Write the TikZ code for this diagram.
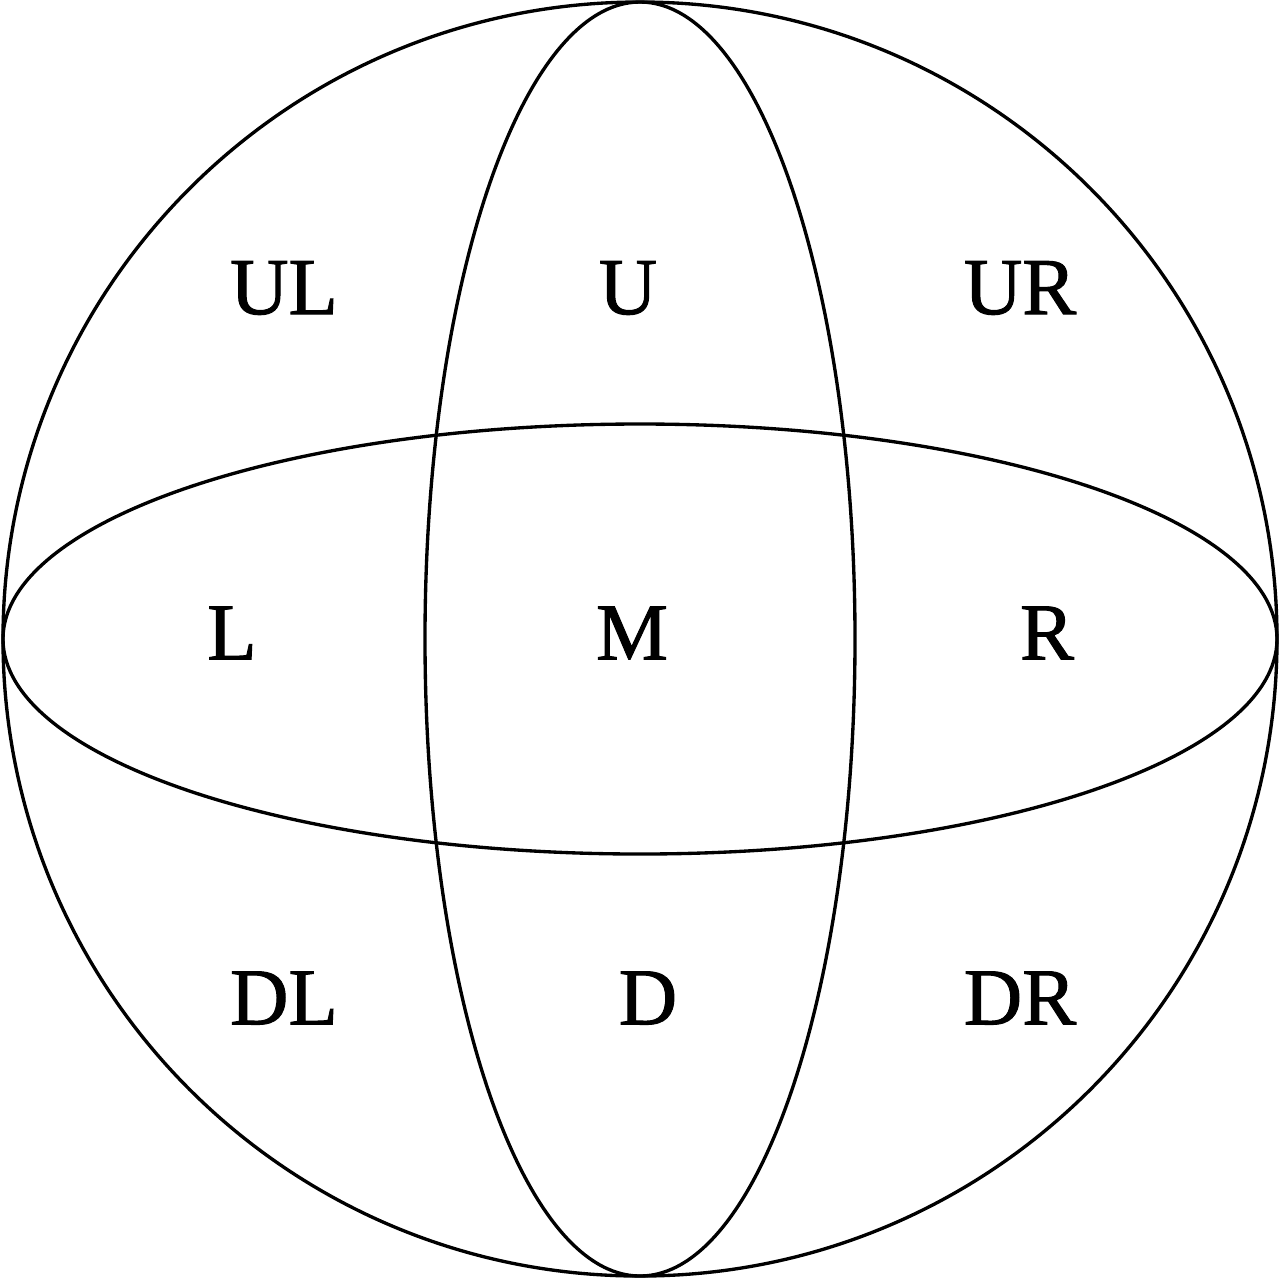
\documentclass[tikz,border=0pt]{standalone}
\usepackage{fontspec}
\setmainfont{Liberation Serif}
\newfontfamily\labelfont{Liberation Serif}[FakeBold=1.2]
\begin{document}
\begin{tikzpicture}[line width=0.95pt, every node/.style={font=\labelfont\fontsize{23}{26}\selectfont}]
\useasboundingbox (-6.40,-6.39) rectangle (6.40,6.39);
\draw (0,0) circle (6.37);
\draw (0,0) ellipse (2.15cm and 6.37cm);
\draw (0,0) ellipse (6.37cm and 2.15cm);
\node (ul) at (-3.56,3.51) {UL};
\node (u) at (-0.12,3.51) {U};
\node (ur) at (3.80,3.51) {UR};
\node (l) at (-4.08,0.06) {L};
\node (m) at (-0.08,0.06) {M};
\node (r) at (4.07,0.06) {R};
\node (dl) at (-3.56,-3.59) {DL};
\node (d) at (0.08,-3.59) {D};
\node (dr) at (3.80,-3.59) {DR};
\end{tikzpicture}
\end{document}
